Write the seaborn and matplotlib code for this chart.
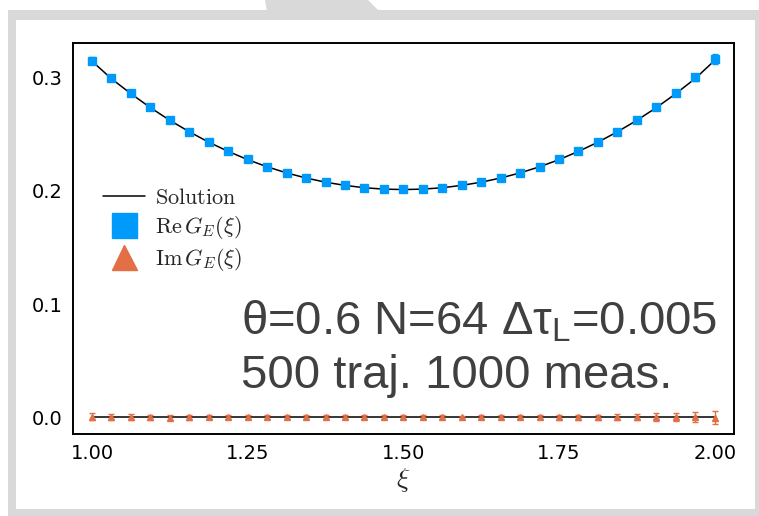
import numpy as np
import matplotlib
matplotlib.use("Agg")
import matplotlib.pyplot as plt
import seaborn as sns
from matplotlib.lines import Line2D
from matplotlib.patches import Rectangle, Polygon
from matplotlib.font_manager import FontProperties

# ---- data ----
xi = [1.0, 1.03125, 1.0625, 1.09375, 1.125, 1.15625, 1.1875, 1.21875, 1.25,
      1.28125, 1.3125, 1.34375, 1.375, 1.40625, 1.4375, 1.46875, 1.5,
      1.53125, 1.5625, 1.59375, 1.625, 1.65625, 1.6875, 1.71875, 1.75,
      1.78125, 1.8125, 1.84375, 1.875, 1.90625, 1.9375, 1.96875, 2.0]

# exact solution: real part (curve) and imaginary part (zero line)
solution_re = [0.3143, 0.2988, 0.2856, 0.2733, 0.2621, 0.2520, 0.2428, 0.2347, 0.2274,
               0.2211, 0.2157, 0.2112, 0.2075, 0.2047, 0.2026, 0.2014, 0.2010,
               0.2014, 0.2026, 0.2047, 0.2075, 0.2112, 0.2157, 0.2211, 0.2274,
               0.2347, 0.2428, 0.2520, 0.2621, 0.2733, 0.2856, 0.2990, 0.3150]
solution_im = [0.0] * 33

re_vals = [0.3148, 0.2992, 0.2858, 0.2735, 0.2622, 0.2521, 0.2430, 0.2348, 0.2276,
           0.2212, 0.2158, 0.2113, 0.2076, 0.2048, 0.2027, 0.2015, 0.2011,
           0.2015, 0.2028, 0.2048, 0.2076, 0.2113, 0.2158, 0.2212, 0.2276,
           0.2348, 0.2430, 0.2522, 0.2624, 0.2737, 0.2862, 0.3000, 0.3160]
re_err = [0.0030, 0.0022, 0.0018, 0.0016, 0.0015, 0.0014, 0.0013, 0.0012, 0.0012,
          0.0011, 0.0011, 0.0010, 0.0010, 0.0010, 0.0010, 0.0010, 0.0010,
          0.0010, 0.0010, 0.0010, 0.0010, 0.0010, 0.0011, 0.0011, 0.0012,
          0.0012, 0.0013, 0.0015, 0.0017, 0.0020, 0.0025, 0.0032, 0.0045]

im_vals = [0.0004, 0.0003, 0.0002, 0.0000, -0.0002, -0.0001, 0.0001, 0.0000, 0.0001,
           0.0002, 0.0001, 0.0000, 0.0001, 0.0002, 0.0001, 0.0000, 0.0001,
           0.0002, 0.0000, -0.0001, 0.0000, 0.0001, 0.0001, 0.0000, -0.0001,
           0.0000, 0.0001, 0.0002, 0.0001, 0.0002, 0.0003, 0.0002, -0.0003]
im_err = [0.0030, 0.0028, 0.0025, 0.0022, 0.0020, 0.0019, 0.0018, 0.0017, 0.0017,
          0.0017, 0.0017, 0.0017, 0.0017, 0.0017, 0.0017, 0.0017, 0.0017,
          0.0017, 0.0017, 0.0017, 0.0017, 0.0017, 0.0018, 0.0018, 0.0019,
          0.0020, 0.0022, 0.0025, 0.0028, 0.0032, 0.0038, 0.0045, 0.0055]

x_ticks = [1.0, 1.25, 1.5, 1.75, 2.0]
x_labels = ["1.00", "1.25", "1.50", "1.75", "2.00"]
y_ticks = [0.0, 0.1, 0.2, 0.3]
y_labels = ["0.0", "0.1", "0.2", "0.3"]

blue = "#009AFA"
orange = "#E36F47"
gray_bg = "#d9d9d9"

sns.set_style("white")
plt.rcParams["font.family"] = ["DejaVu Sans"]
plt.rcParams["mathtext.fontset"] = "custom"
plt.rcParams["mathtext.rm"] = "Liberation Sans"
plt.rcParams["mathtext.it"] = "Liberation Sans:italic"

W, H = 759, 516
fig = plt.figure(figsize=(W / 100, H / 100), dpi=100)
fig.patch.set_facecolor("white")

# background frame (page decoration)
fig.add_artist(Rectangle((8 / W, 0), 1, 1 - 10 / H, transform=fig.transFigure,
                         facecolor=gray_bg, edgecolor="none", zorder=-10))
fig.add_artist(Polygon([(265 / W, 1), (368 / W, 1), (380 / W, 1 - 12 / H), (267 / W, 1 - 12 / H)],
                       closed=True, transform=fig.transFigure,
                       facecolor=gray_bg, edgecolor="none", zorder=-10))
fig.add_artist(Rectangle((16 / W, 7 / H), 739 / W, 489 / H, transform=fig.transFigure,
                         facecolor="white", edgecolor="none", zorder=-9))

ax = fig.add_axes([72.7 / W, 1 - 434 / H, (734 - 72.7) / W, (434 - 42.7) / H])
ax.set_facecolor("white")
ax.patch.set_alpha(0)

sns.lineplot(x=xi, y=solution_re, color="black", lw=1.1, ax=ax, zorder=2)
sns.lineplot(x=xi, y=solution_im, color="black", lw=1.1, ax=ax, zorder=2)
ax.errorbar(xi, re_vals, yerr=re_err, fmt="s", color=blue, ms=6, mec=blue,
            ecolor=blue, elinewidth=1.0, capsize=2.5, capthick=1.0, zorder=3)
ax.errorbar(xi, im_vals, yerr=im_err, fmt="^", color=orange, ms=5, mec=orange,
            ecolor=orange, elinewidth=1.0, capsize=2.5, capthick=1.0, zorder=3)

ax.set_xlim(0.969, 2.031)
ax.set_ylim(-0.0147, 0.3306)
ax.set_xticks(x_ticks, x_labels)
ax.set_yticks(y_ticks, y_labels)
ax.tick_params(direction="in", length=6, width=1.0, labelsize=14, colors="black", pad=7)
for s in ax.spines.values():
    s.set_color("black")
    s.set_linewidth(1.4)

ax.set_xlabel(r"$\xi$", fontsize=20, math_fontfamily="cm", labelpad=2)

handles = [Line2D([], [], color="black", lw=1.1),
           Line2D([], [], marker="s", ls="none", color=blue, ms=18),
           Line2D([], [], marker="^", ls="none", color=orange, ms=18)]
labels = [r"$\mathrm{Solution}$", r"$\mathrm{Re}\,G_E(\xi)$", r"$\mathrm{Im}\,G_E(\xi)$"]
leg = ax.legend(handles, labels, loc="upper left", bbox_to_anchor=(103 / W, 1 - 188 / H),
                bbox_transform=fig.transFigure, frameon=False, borderpad=0, borderaxespad=0,
                handlelength=1.9, handletextpad=0.45, labelspacing=0.25,
                prop=FontProperties(size=16, math_fontfamily="cm"))

fig.text(241 / W, 1 - 335 / H, r"θ=0.6 N=64 Δτ$_\mathrm{L}$=0.005", fontsize=34,
         family="Liberation Sans", color="#404040", va="baseline", ha="left")
fig.text(241 / W, 1 - 388 / H, "500 traj. 1000 meas.", fontsize=34,
         family="Liberation Sans", color="#404040", va="baseline", ha="left")

fig.savefig("out.png", dpi=100)
